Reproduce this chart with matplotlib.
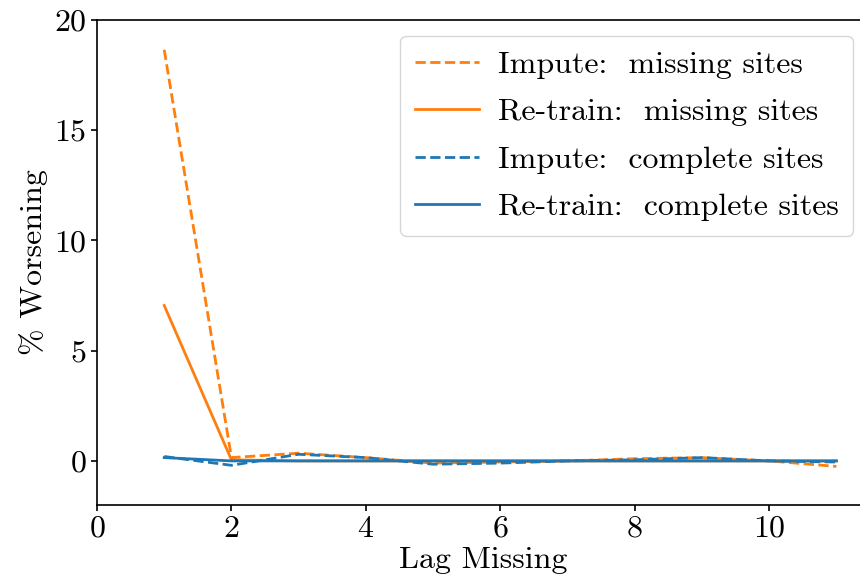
import matplotlib
matplotlib.use("Agg")
import matplotlib.pyplot as plt

lag = [1, 2, 3, 4, 5, 6, 7, 8, 9, 10, 11]
impute_missing = [18.65, 0.15, 0.35, 0.15, -0.1, -0.05, 0.0, 0.1, 0.15, 0.0, -0.25]
retrain_missing = [7.05, 0.05, 0.0, 0.0, 0.0, 0.0, 0.0, 0.0, 0.0, 0.0, 0.0]
impute_complete = [0.2, -0.2, 0.3, 0.15, -0.15, -0.1, 0.0, 0.05, 0.15, 0.0, -0.05]
retrain_complete = [0.15, 0.0, 0.0, 0.0, 0.0, 0.0, 0.0, 0.0, 0.0, 0.0, 0.0]
labels = ["Impute:  missing sites", "Re-train:  missing sites",
          "Impute:  complete sites", "Re-train:  complete sites"]
xticks = [0, 2, 4, 6, 8, 10]
yticks = [0, 5, 10, 15, 20]

plt.rcParams['font.family'] = ['cmr10', 'DejaVu Serif']
plt.rcParams['mathtext.fontset'] = 'cm'
plt.rcParams['axes.formatter.use_mathtext'] = True
plt.rcParams['axes.unicode_minus'] = False

fs = 23
fig = plt.figure(figsize=(8.6, 5.88), dpi=100)
ax = fig.add_axes([97/860, 1-505/588, (870-97)/860, (505-20)/588])

orange = '#ff7f0e'
blue = '#1f77b4'
lw = 2.0
ax.plot(lag, impute_missing, '--', color=orange, lw=lw, label=labels[0])
ax.plot(lag, retrain_missing, '-', color=orange, lw=lw, label=labels[1])
ax.plot(lag, impute_complete, '--', color=blue, lw=lw, label=labels[2])
ax.plot(lag, retrain_complete, '-', color=blue, lw=lw, label=labels[3])

ax.set_xlim(0, 11.5)
ax.set_ylim(-2, 20)
ax.set_xticks(xticks)
ax.set_yticks(yticks)
for s in ax.spines.values():
    s.set_linewidth(1.2)
ax.tick_params(labelsize=fs, width=1.2, length=4)
ax.set_xlabel("Lag Missing", fontsize=fs, labelpad=3)
ax.set_ylabel("% Worsening", fontsize=fs)

ax.legend(loc='upper right', bbox_to_anchor=(853/860, 1-36/588),
          bbox_transform=fig.transFigure, borderaxespad=0, fontsize=fs,
          labelspacing=0.6, borderpad=0.45, handletextpad=0.6)

fig.savefig("out.png", dpi=100)
